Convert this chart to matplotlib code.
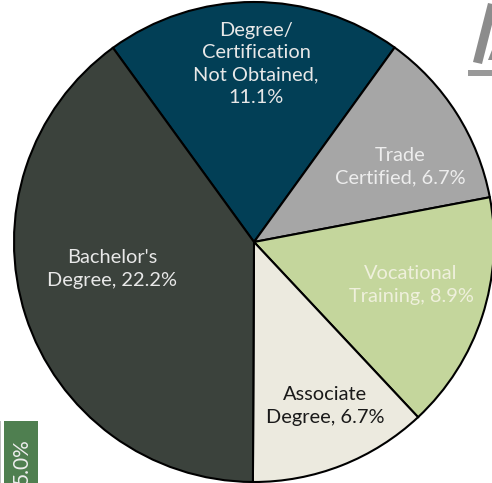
import matplotlib
matplotlib.use("Agg")
import matplotlib.pyplot as plt
from matplotlib.patches import Polygon, Rectangle

categories = ["Degree/\nCertification\nNot Obtained,\n11.1%", "Trade\nCertified, 6.7%", "Vocational\nTraining, 8.9%",
              "Associate\nDegree, 6.7%", "Bachelor's\nDegree, 22.2%"]
values = [11.1, 6.7, 8.9, 6.7, 22.2]
colors = ["#023F56", "#A6A6A6", "#C4D69C", "#ECEADF", "#3B423C"]
label_colors = ["#E8E8E8", "#EDEDED", "#EFF0DC", "#1A1A1A", "#E8E8E8"]
label_xy = [(256, 64), (400, 167), (411, 285), (325, 406), (112, 269)]

W, H = 492, 483
plt.rcParams['font.family'] = ['Lato', 'DejaVu Sans']
fig = plt.figure(figsize=(W / 100, H / 100), dpi=100)
ax = fig.add_axes([0, 0, 1, 1])
ax.pie(values, colors=colors, startangle=126, counterclock=False,
       center=(254, H - 242), radius=240, frame=True,
       wedgeprops=dict(edgecolor="black", linewidth=1.5))
ax.set_xlim(0, W); ax.set_ylim(0, H); ax.set_aspect('equal'); ax.axis('off')

for t, xy, c in zip(categories, label_xy, label_colors):
    ax.text(xy[0], H - xy[1], t, ha='center', va='center', color=c, fontsize=14.4,
            linespacing=1.36, multialignment='center')

# fragment of a logo, top right
g = "#8C8C8C"
ax.add_patch(Polygon([(473, H-62), (482, H-64), (497, H-5), (488, H-3)], closed=True, fc=g, ec='none'))
ax.add_patch(Rectangle((468, H-76), 30, 6, fc="#999999", ec='none'))
ax.add_patch(Polygon([(488, H-60), (492, H-60), (492, H-50)], closed=True, fc=g, ec='none'))

# fragment of a neighbouring element, bottom left
ax.add_patch(Rectangle((4, 0), 34, H-421, fc="#4F7F50", ec='none'))
ax.add_patch(Rectangle((0, 0), 1, H-421, fc="#BFBFBF", ec='none'))
ax.text(22, H-438, "5.0%", rotation=90, ha='center', va='top', color="#EDEDED", fontsize=15)

fig.savefig("out.png", dpi=100)
